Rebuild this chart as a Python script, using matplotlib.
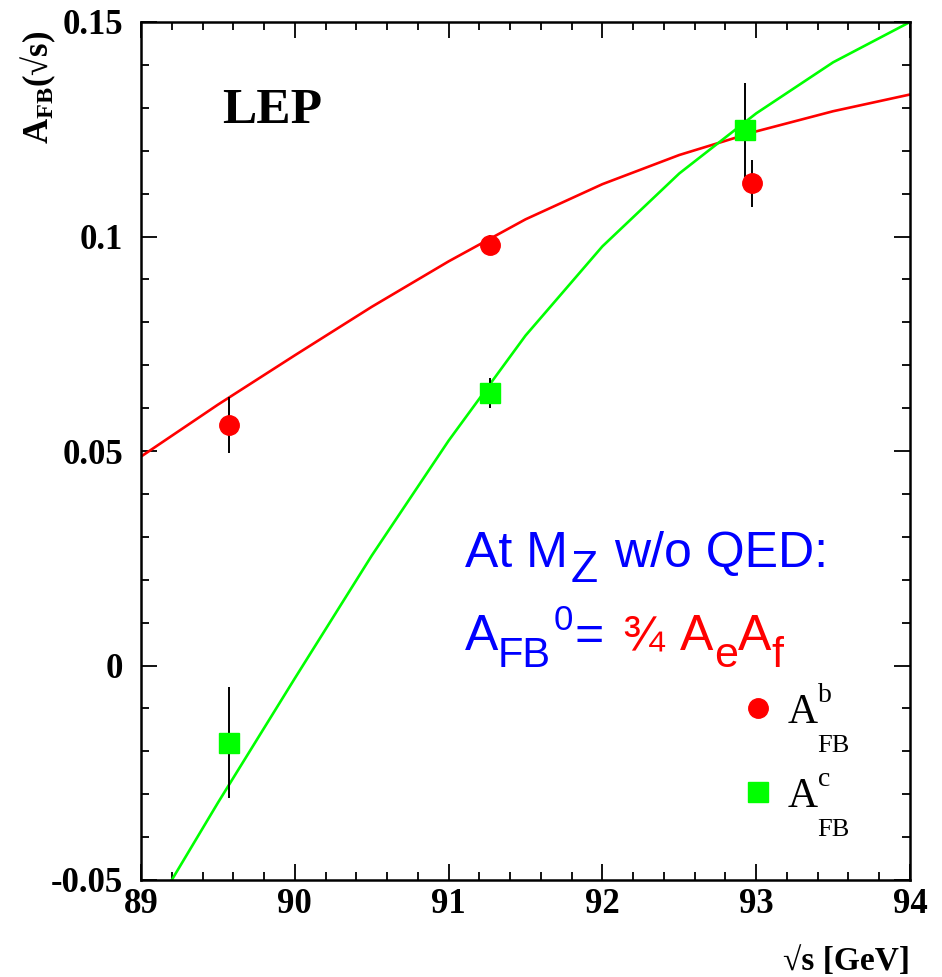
import matplotlib
matplotlib.use("Agg")
import matplotlib.pyplot as plt
from matplotlib.ticker import MultipleLocator, FixedFormatter, FixedLocator
from matplotlib.lines import Line2D

plt.rcParams['mathtext.fontset'] = 'custom'
plt.rcParams['mathtext.rm'] = 'Liberation Serif'
plt.rcParams['mathtext.bf'] = 'Liberation Serif:bold'
plt.rcParams['mathtext.sf'] = 'Liberation Sans'
plt.rcParams['mathtext.it'] = 'Liberation Serif:italic'

# ---- data ----
curve_x = [89.0, 89.5, 90.0, 90.5, 91.0, 91.5, 92.0, 92.5, 93.0, 93.5, 94.0]
curve_b = [0.0487, 0.0608, 0.0723, 0.0836, 0.0942, 0.1040, 0.1122, 0.1190, 0.1245, 0.1292, 0.1331]
curve_c = [-0.062, -0.032, -0.003, 0.0256, 0.0524, 0.0769, 0.0977, 0.1147, 0.1287, 0.1406, 0.1500]

x_b = [89.57, 91.27, 92.97]
afb_b = [0.0560, 0.0981, 0.1124]
err_b = [0.0065, 0.0022, 0.0055]

x_c = [89.57, 91.27, 92.93]
afb_c = [-0.0180, 0.0635, 0.1248]
err_c = [0.0130, 0.0035, 0.0110]

xticks = [89, 90, 91, 92, 93, 94]
xticklabels = ["89", "90", "91", "92", "93", "94"]
yticks = [-0.05, 0.0, 0.05, 0.1, 0.15]
yticklabels = ["-0.05", "0", "0.05", "0.1", "0.15"]

RED = "#ff0000"
GREEN = "#00ff00"
BLUE = "#0000ff"
SANS = 'Liberation Sans'
SERIF = 'Liberation Serif'

fig = plt.figure(figsize=(9.42, 9.77), dpi=100)
ax = fig.add_axes([141/942, 1-880/977, 769/942, 858/977])

ax.plot(curve_x, curve_b, color=RED, lw=1.9, zorder=2)
ax.plot(curve_x, curve_c, color=GREEN, lw=1.9, zorder=2)

ax.errorbar(x_b, afb_b, yerr=err_b, fmt='o', color=RED, ecolor='black',
            elinewidth=1.4, capsize=0, ms=14, mec=RED, zorder=3)
ax.errorbar(x_c, afb_c, yerr=err_c, fmt='s', color=GREEN, ecolor='black',
            elinewidth=1.4, capsize=0, ms=14.5, mec=GREEN, zorder=3)

ax.set_xlim(89, 94)
ax.set_ylim(-0.05, 0.15)

ax.xaxis.set_major_locator(FixedLocator(xticks))
ax.xaxis.set_major_formatter(FixedFormatter(xticklabels))
ax.xaxis.set_minor_locator(MultipleLocator(0.2))
ax.yaxis.set_major_locator(FixedLocator(yticks))
ax.yaxis.set_major_formatter(FixedFormatter(yticklabels))
ax.yaxis.set_minor_locator(MultipleLocator(0.01))

ax.tick_params(which='both', direction='in', top=True, right=True, width=1.3, color='black')
ax.tick_params(which='major', length=11.5)
ax.tick_params(which='minor', length=6)
ax.tick_params(axis='y', which='major', pad=13)
ax.tick_params(axis='x', which='major', pad=6)
for lab in ax.get_xticklabels() + ax.get_yticklabels():
    lab.set_fontfamily(SERIF)
    lab.set_fontweight('bold')
    lab.set_fontsize(25)
for sp in ax.spines.values():
    sp.set_linewidth(1.8)

ax.set_xlabel("√s [GeV]", fontfamily=[SERIF, 'DejaVu Serif'],
              fontweight='bold', fontsize=24, loc='right')
ax.xaxis.set_label_coords(1.0, -0.077)
ax.set_ylabel(r"A$_{\mathbf{FB}}$(√s)", fontfamily=[SERIF, 'DejaVu Serif'],
              fontweight='bold', fontsize=25, loc='top')
ax.yaxis.set_label_coords(-0.108, 0.99)

ax.text(0.105, 0.8965, "LEP", transform=ax.transAxes, fontfamily=SERIF,
        fontweight='bold', fontsize=37, ha='left', va='center')


def chain(x0, y0, pieces):
    """pieces: (text, fontsize, dx_pt, dy_pt, color)"""
    text, size, dx, dy, color = pieces[0]
    prev = ax.text(x0, y0, text, transform=ax.transAxes, fontfamily=SANS,
                   fontsize=size, color=color, ha='left', va='baseline')
    for text, size, dx, dy, color in pieces[1:]:
        prev = ax.annotate(text, xy=(1, y0), xycoords=(prev, ax.transAxes),
                           xytext=(dx, dy), textcoords='offset points',
                           fontfamily=SANS, fontsize=size, color=color,
                           ha='left', va='baseline')


chain(0.421, 0.3648, [
    ("At M", 36, 0, 0, BLUE),
    ("Z", 32, 2, -11, BLUE),
    ("w/o QED:", 36, 12, 0, BLUE),
])
chain(0.421, 0.268, [
    ("A", 36, 0, 0, BLUE),
    ("FB", 30, 0, -12, BLUE),
    ("0", 25, 2, 14.5, BLUE),
    ("=", 36, 1, 0, BLUE),
    ("¾", 36, 13, 0, RED),
    ("A", 36, 12, 0, RED),
    ("e", 31, 0, -12, RED),
    ("A", 36, 0, 0, RED),
    ("f", 31, 0, -12, RED),
])

handles = [Line2D([], [], ls='none', marker='o', ms=14, color=RED),
           Line2D([], [], ls='none', marker='s', ms=14.5, color=GREEN)]
leg = ax.legend(handles, ["A", "A"], loc='center left', bbox_to_anchor=(0.781, 0.1463),
                frameon=False, prop={'family': SERIF, 'size': 30},
                handlelength=0.8, handletextpad=0.3, labelspacing=1.09,
                borderpad=0, borderaxespad=0)
for txt, sup in zip(leg.get_texts(), ["b", "c"]):
    ax.annotate(sup, xy=(1, 0), xycoords=txt, xytext=(0.5, 21.5),
                textcoords='offset points', fontfamily=SERIF, fontsize=20,
                ha='left', va='baseline', zorder=8)
    ax.annotate("FB", xy=(1, 0), xycoords=txt, xytext=(-0.5, -14.5),
                textcoords='offset points', fontfamily=SERIF, fontsize=19,
                ha='left', va='baseline', zorder=8)

fig.savefig("out.png", dpi=100)
